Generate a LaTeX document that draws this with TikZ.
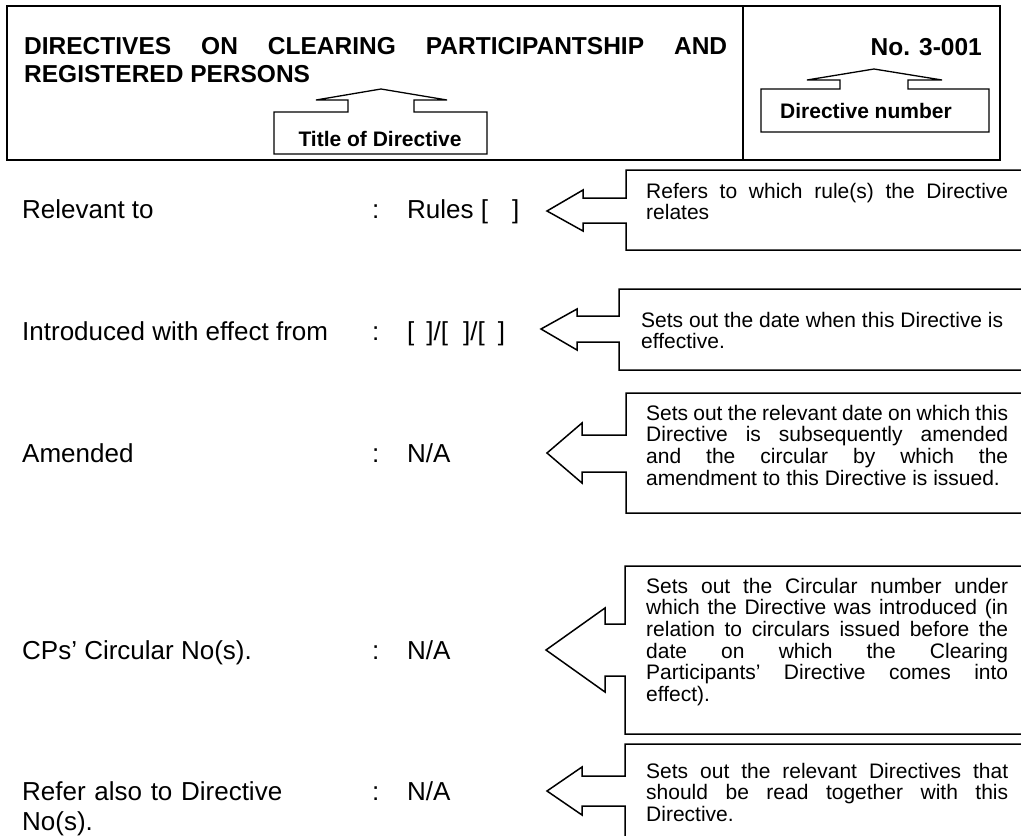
\documentclass[tikz,border=0pt]{standalone}
\usepackage{fontspec}
\setmainfont{Liberation Sans}
\newcommand{\fullline}[1]{\makebox[362pt][s]{\spaceskip=0pt\relax\xspaceskip=0pt\relax#1}}

\begin{document}
\begin{tikzpicture}[x=1pt, y=-1pt,
    heading/.style={anchor=base west, inner sep=0pt, font=\fontsize{24.5}{30}\selectfont\bfseries},
    field/.style={anchor=base west, inner sep=0pt, font=\fontsize{26}{30}\selectfont},
    hint/.style={anchor=base, inner sep=0pt, font=\fontsize{21}{24}\selectfont\bfseries},
    note/.style={anchor=base west, inner sep=0pt, text width=362pt, align=justify, font=\fontsize{21}{21.7}\selectfont},
    frame/.style={draw, line width=2pt},
    callout/.style={draw, line width=1.5pt, line join=miter}]
    \useasboundingbox (0,0) rectangle (1021,836);
    \clip (0,0) rectangle (1021,836);

    \draw[frame] (7,6) rectangle (1000,160);
    \draw[frame] (743,6) -- (743,160);
    \node[heading] (title1) at (24,54) {\makebox[703pt][s]{DIRECTIVES ON CLEARING PARTICIPANTSHIP AND}};
    \node[heading] (title2) at (24,82) {REGISTERED PERSONS};
    \node[heading, anchor=base east] (number) at (982,55) {No. 3-001};

    \draw[callout, line width=1.3pt] (274,112) -- (348,112) -- (348,100) -- (316,100) -- (381,89) -- (447,100) -- (414,100) -- (414,112) -- (487,112) -- (487,154) -- (274,154) -- cycle;
    \node[hint] (titlenote) at (380,146) {Title of Directive};
    \draw[callout, line width=1.3pt] (761,89) -- (840,89) -- (840,80) -- (807,80) -- (874,69) -- (942,80) -- (908,80) -- (908,89) -- (989,89) -- (989,132) -- (761,132) -- cycle;
    \node[hint] (numbernote) at (866,118) {Directive number};

    \node[field] (relevant) at (22,218) {Relevant to};
    \node[field] (relevantval) at (372,218) {\makebox[35pt][l]{:}Rules [\hspace{24pt}]};
    \node[field] (introduced) at (22,340) {Introduced with effect from};
    \node[field] (introducedval) at (372,340) {\makebox[35pt][l]{:}[\hspace{12pt}]/[\hspace{15pt}]/[\hspace{13pt}]};
    \node[field] (amended) at (22,462) {Amended};
    \node[field] (amendedval) at (372,462) {\makebox[35pt][l]{:}N/A};
    \node[field] (circular) at (22,659) {CPs’ Circular No(s).};
    \node[field] (circularval) at (372,659) {\makebox[35pt][l]{:}N/A};
    \node[field, text width=330pt, align=left] (referto) at (22,800) {Refer also to Directive\\No(s).};
    \node[field] (refertoval) at (372,800) {\makebox[35pt][l]{:}N/A};

    \draw[callout] (1030,170) -- (626,170) -- (626,198) -- (583,198) -- (583,190) -- (547,211) -- (583,231) -- (583,223) -- (626,223) -- (626,250) -- (1030,250);
    \node[note] (relevantnote) at (646,198) {\fullline{Refers to which rule(s) the Directive}\\relates};
    \draw[callout] (1030,289) -- (619,289) -- (619,316) -- (577,316) -- (577,309) -- (541,329) -- (577,350) -- (577,342) -- (619,342) -- (619,370) -- (1030,370);
    \node[note] (introducednote) at (641,327) {\fullline{Sets out the date when this Directive is}\\effective.};
    \draw[callout] (1030,393) -- (626,393) -- (626,435) -- (582,435) -- (582,423) -- (547,453) -- (582,483) -- (582,472) -- (626,472) -- (626,513) -- (1030,513);
    \node[note] (amendednote) at (646,420) {\fullline{Sets out the relevant date on which this}\\\fullline{Directive is subsequently amended}\\\fullline{and the circular by which the}\\amendment to this Directive is issued.};
    \draw[callout] (1030,566) -- (625,566) -- (625,624) -- (605,624) -- (605,608) -- (546,650) -- (605,692) -- (605,676) -- (625,676) -- (625,734) -- (1030,734);
    \node[note] (circularnote) at (646,593) {\fullline{Sets out the Circular number under}\\\fullline{which the Directive was introduced (in}\\\fullline{relation to circulars issued before the}\\\fullline{date on which the Clearing}\\\fullline{Participants’ Directive comes into}\\effect).};
    \draw[callout] (1030,744) -- (625,744) -- (625,776) -- (582,776) -- (582,767) -- (547,791) -- (582,815) -- (582,806) -- (625,806) -- (625,860);
    \node[note] (refertonote) at (646,778) {\fullline{Sets out the relevant Directives that}\\\fullline{should be read together with this}\\Directive.};
\end{tikzpicture}
\end{document}
